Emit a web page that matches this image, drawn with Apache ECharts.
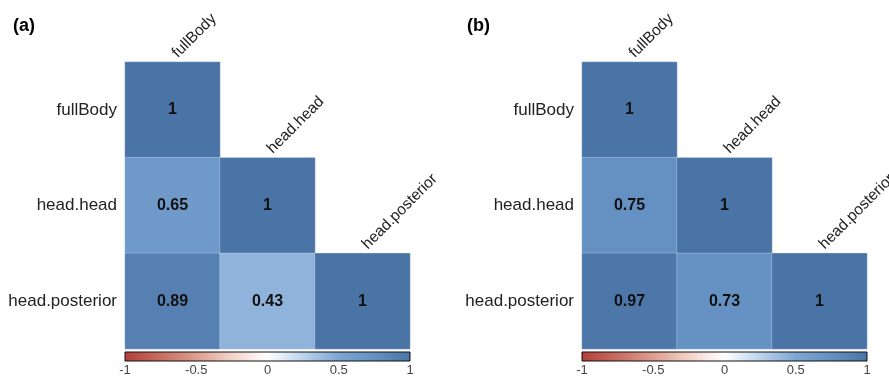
<!DOCTYPE html>
<html>
<head>
<meta charset="utf-8">
<script src="https://cdn.jsdelivr.net/npm/echarts@6/dist/echarts.min.js"></script>
<style>html,body{margin:0;padding:0;background:#fff;}#c{width:889px;height:381px;}</style>
</head>
<body>
<div id="c"></div>
<script>
const varNames = ['fullBody', 'head.head', 'head.posterior'];
const corrA = [[1], [0.65, 1], [0.89, 0.43, 1]];
const corrB = [[1], [0.75, 1], [0.97, 0.73, 1]];
const colorbarTicks = [-1, -0.5, 0, 0.5, 1];
const panelTitles = ['(a)', '(b)'];
const palette = ['#b2403b', '#c86c60', '#dd9d8f', '#f2d3c9', '#ffffff', '#bcd3ec', '#7ea6d3', '#6490c2', '#4b74a6'];

const FONT = "'Liberation Sans', Arial, sans-serif";

function toCells(m) {
  const out = [];
  m.forEach((row, r) => row.forEach((v, c) => out.push([c, r, v])));
  return out;
}

const panelLeft = [125, 582];
const gridW = 285, gridTop = 62, gridH = 287;

const grids = [], xAxes = [], yAxes = [], series = [];
[corrA, corrB].forEach((m, p) => {
  grids.push({left: panelLeft[p], width: gridW, top: gridTop, height: gridH});
  xAxes.push({type: 'category', gridIndex: p, data: varNames, show: false});
  yAxes.push({type: 'category', gridIndex: p, data: varNames, inverse: true,
    axisLine: {show: false}, axisTick: {show: false}, splitLine: {show: false},
    axisLabel: {fontSize: 17, color: '#222', fontFamily: FONT, margin: 8}});
});
[0, 1].forEach(p => {
  grids.push({left: panelLeft[p], width: gridW, top: 352, height: 9});
  xAxes.push({type: 'value', gridIndex: 2 + p, min: -1, max: 1, interval: 0.5,
    axisLine: {show: false}, axisTick: {show: false}, splitLine: {show: false},
    axisLabel: {fontSize: 13, color: '#444', fontFamily: FONT, margin: 3,
      formatter: v => colorbarTicks.includes(v) ? String(v) : ''}});
  yAxes.push({type: 'value', gridIndex: 2 + p, min: 0, max: 1, show: false});
});

[corrA, corrB].forEach((m, p) => {
  series.push({
    type: 'heatmap', xAxisIndex: p, yAxisIndex: p, data: toCells(m),
    itemStyle: {borderColor: 'rgba(255,255,255,0.25)', borderWidth: 1},
    label: {show: true, fontSize: 16, fontWeight: 'bold', color: '#111', fontFamily: FONT,
      formatter: d => String(d.value[2])},
    emphasis: {disabled: true}
  });
});
[0, 1].forEach(p => {
  series.push({
    type: 'custom', xAxisIndex: p, yAxisIndex: p, clip: false, z: 10,
    data: varNames.map((n, i) => [i, i, n]),
    renderItem: (params, api) => {
      const c = api.coord([api.value(0), api.value(1)]);
      const s = api.size([1, 1]);
      return {type: 'text', x: c[0] + 8, y: c[1] - s[1] / 2 - 1, rotation: Math.PI / 4,
        style: {text: varNames[params.dataIndex], font: '15.5px ' + FONT, fill: '#222',
          align: 'left', verticalAlign: 'bottom'}};
    }
  });
});
[0, 1].forEach(p => {
  series.push({
    type: 'custom', xAxisIndex: 2 + p, yAxisIndex: 2 + p, clip: false,
    data: [[colorbarTicks[0], colorbarTicks[colorbarTicks.length - 1]]],
    renderItem: (params, api) => {
      const a = api.coord([api.value(0), 1]);
      const b = api.coord([api.value(1), 0]);
      const stops = palette.map((c, i) => ({offset: i / (palette.length - 1), color: c}));
      return {type: 'rect', shape: {x: a[0], y: a[1], width: b[0] - a[0], height: b[1] - a[1]},
        style: {fill: new echarts.graphic.LinearGradient(0, 0, 1, 0, stops), stroke: '#111', lineWidth: 1}};
    }
  });
});

const chart = echarts.init(document.getElementById('c'));
chart.setOption({
  animation: false,
  backgroundColor: '#fff',
  title: panelTitles.map((t, i) => ({text: t, left: [8, 462][i], top: 12,
    textStyle: {fontSize: 18, fontWeight: 'bold', color: '#000', fontFamily: FONT}})),
  grid: grids, xAxis: xAxes, yAxis: yAxes,
  visualMap: {show: false, type: 'continuous', min: -1, max: 1, seriesIndex: [0, 1],
    inRange: {color: palette}},
  series: series
});
</script>
</body>
</html>
